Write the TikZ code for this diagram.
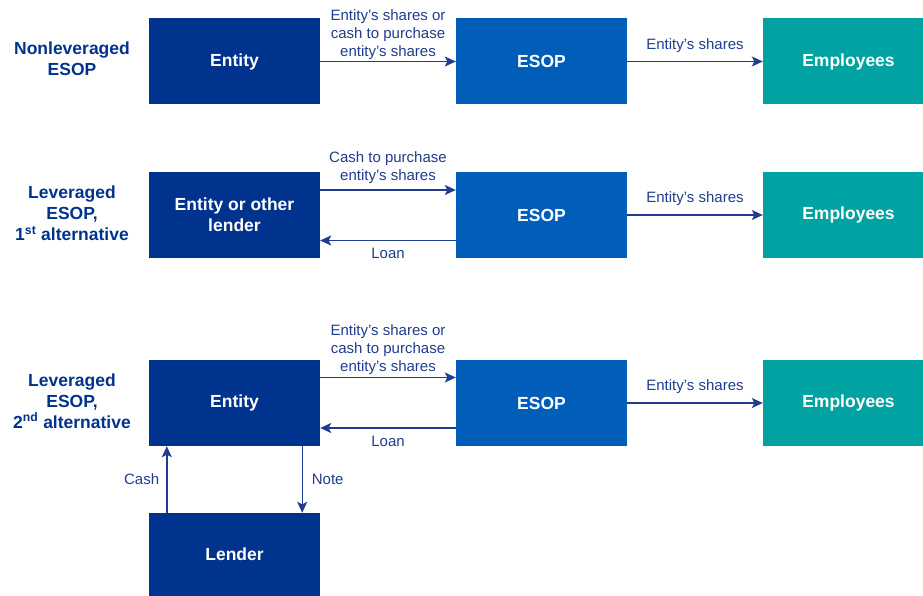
\documentclass[tikz,border=0pt]{standalone}
\usepackage{fontspec}
\setmainfont{Liberation Sans}
\usetikzlibrary{arrows.meta}
\definecolor{kdark}{HTML}{00338D}
\definecolor{kmid}{HTML}{005EB8}
\definecolor{kteal}{HTML}{00A3A1}
\definecolor{ktext}{HTML}{1F3D8E}
\begin{document}
\begin{tikzpicture}[x=1pt,y=-1pt,
  boxbase/.style={rectangle, inner sep=0pt, minimum width=171pt, minimum height=86pt,
    text=white, font=\fontsize{17.5}{21}\selectfont\bfseries, align=center},
  darkbox/.style={boxbase, fill=kdark},
  midbox/.style={boxbase, fill=kmid},
  tealbox/.style={boxbase, fill=kteal, minimum width=160pt},
  rowlbl/.style={text=kdark, font=\fontsize{17.5}{21}\selectfont\bfseries, align=center, inner sep=0pt},
  arrlbl/.style={text=ktext, font=\fontsize{15}{18}\selectfont, align=center, inner sep=0pt},
  arr/.style={draw=ktext, line width=1.4pt, -{Stealth[length=11pt,width=10pt,inset=2.5pt]}}
]
\useasboundingbox (0,0) rectangle (923,596);

% Row labels
\node[rowlbl] (lbl1) at (72,59) {Nonleveraged\\ESOP};
\node[rowlbl] (lbl2) at (72,213.5) {Leveraged\\ESOP,\\1\textsuperscript{st} alternative};
\node[rowlbl] (lbl3) at (72,401) {Leveraged\\ESOP,\\2\textsuperscript{nd} alternative};

% Row 1
\node[darkbox] (ent1) at (234.5,61.5) {Entity};
\node[midbox] (esop1) at (541.5,61.5) {ESOP};
\node[tealbox] (emp1) at (843,61.5) {\hspace*{11pt}Employees};

% Row 2
\node[darkbox] (ent2) at (234.5,215) {Entity or other\\lender};
\node[midbox] (esop2) at (541.5,215) {ESOP};
\node[tealbox] (emp2) at (843,215) {\hspace*{11pt}Employees};

% Row 3
\node[darkbox] (ent3) at (234.5,403) {Entity};
\node[midbox] (esop3) at (541.5,403) {ESOP};
\node[tealbox] (emp3) at (843,403) {\hspace*{11pt}Employees};
\node[darkbox, minimum height=83pt] (lend) at (234.5,554.5) {Lender};

% Row 1 arrows
\draw[arr] (ent1.east) -- (esop1.west)
  node[arrlbl, midway, yshift=27pt] (t1) {Entity's shares or\\cash to purchase\\entity's shares};
\draw[arr] (esop1.east) -- (emp1.west)
  node[arrlbl, midway, yshift=15.5pt] (t2) {Entity's shares};

% Row 2 arrows
\draw[arr] ([yshift=25pt]ent2.east) -- ([yshift=25pt]esop2.west)
  node[arrlbl, midway, yshift=22.5pt] (t3) {Cash to purchase\\entity's shares};
\draw[arr] ([yshift=-25.5pt]esop2.west) -- ([yshift=-25.5pt]ent2.east)
  node[arrlbl, midway, yshift=-12.5pt] (t4) {Loan};
\draw[arr] (esop2.east) -- (emp2.west)
  node[arrlbl, midway, yshift=16pt] (t5) {Entity's shares};

% Row 3 arrows
\draw[arr] ([yshift=25.5pt]ent3.east) -- ([yshift=25.5pt]esop3.west)
  node[arrlbl, midway, yshift=27.5pt] (t6) {Entity's shares or\\cash to purchase\\entity's shares};
\draw[arr] ([yshift=-25pt]esop3.west) -- ([yshift=-25pt]ent3.east)
  node[arrlbl, midway, yshift=-13pt] (t7) {Loan};
\draw[arr] (esop3.east) -- (emp3.west)
  node[arrlbl, midway, yshift=16pt] (t8) {Entity's shares};

% Vertical arrows
\draw[arr] ([xshift=18pt]lend.north west) -- ([xshift=18pt]ent3.south west)
  node[arrlbl, midway, anchor=east, xshift=-7pt] (t9) {Cash};
\draw[arr] ([xshift=-18pt]ent3.south east) -- ([xshift=-18pt]lend.north east)
  node[arrlbl, midway, anchor=west, xshift=9pt] (t10) {Note};
\end{tikzpicture}
\end{document}
